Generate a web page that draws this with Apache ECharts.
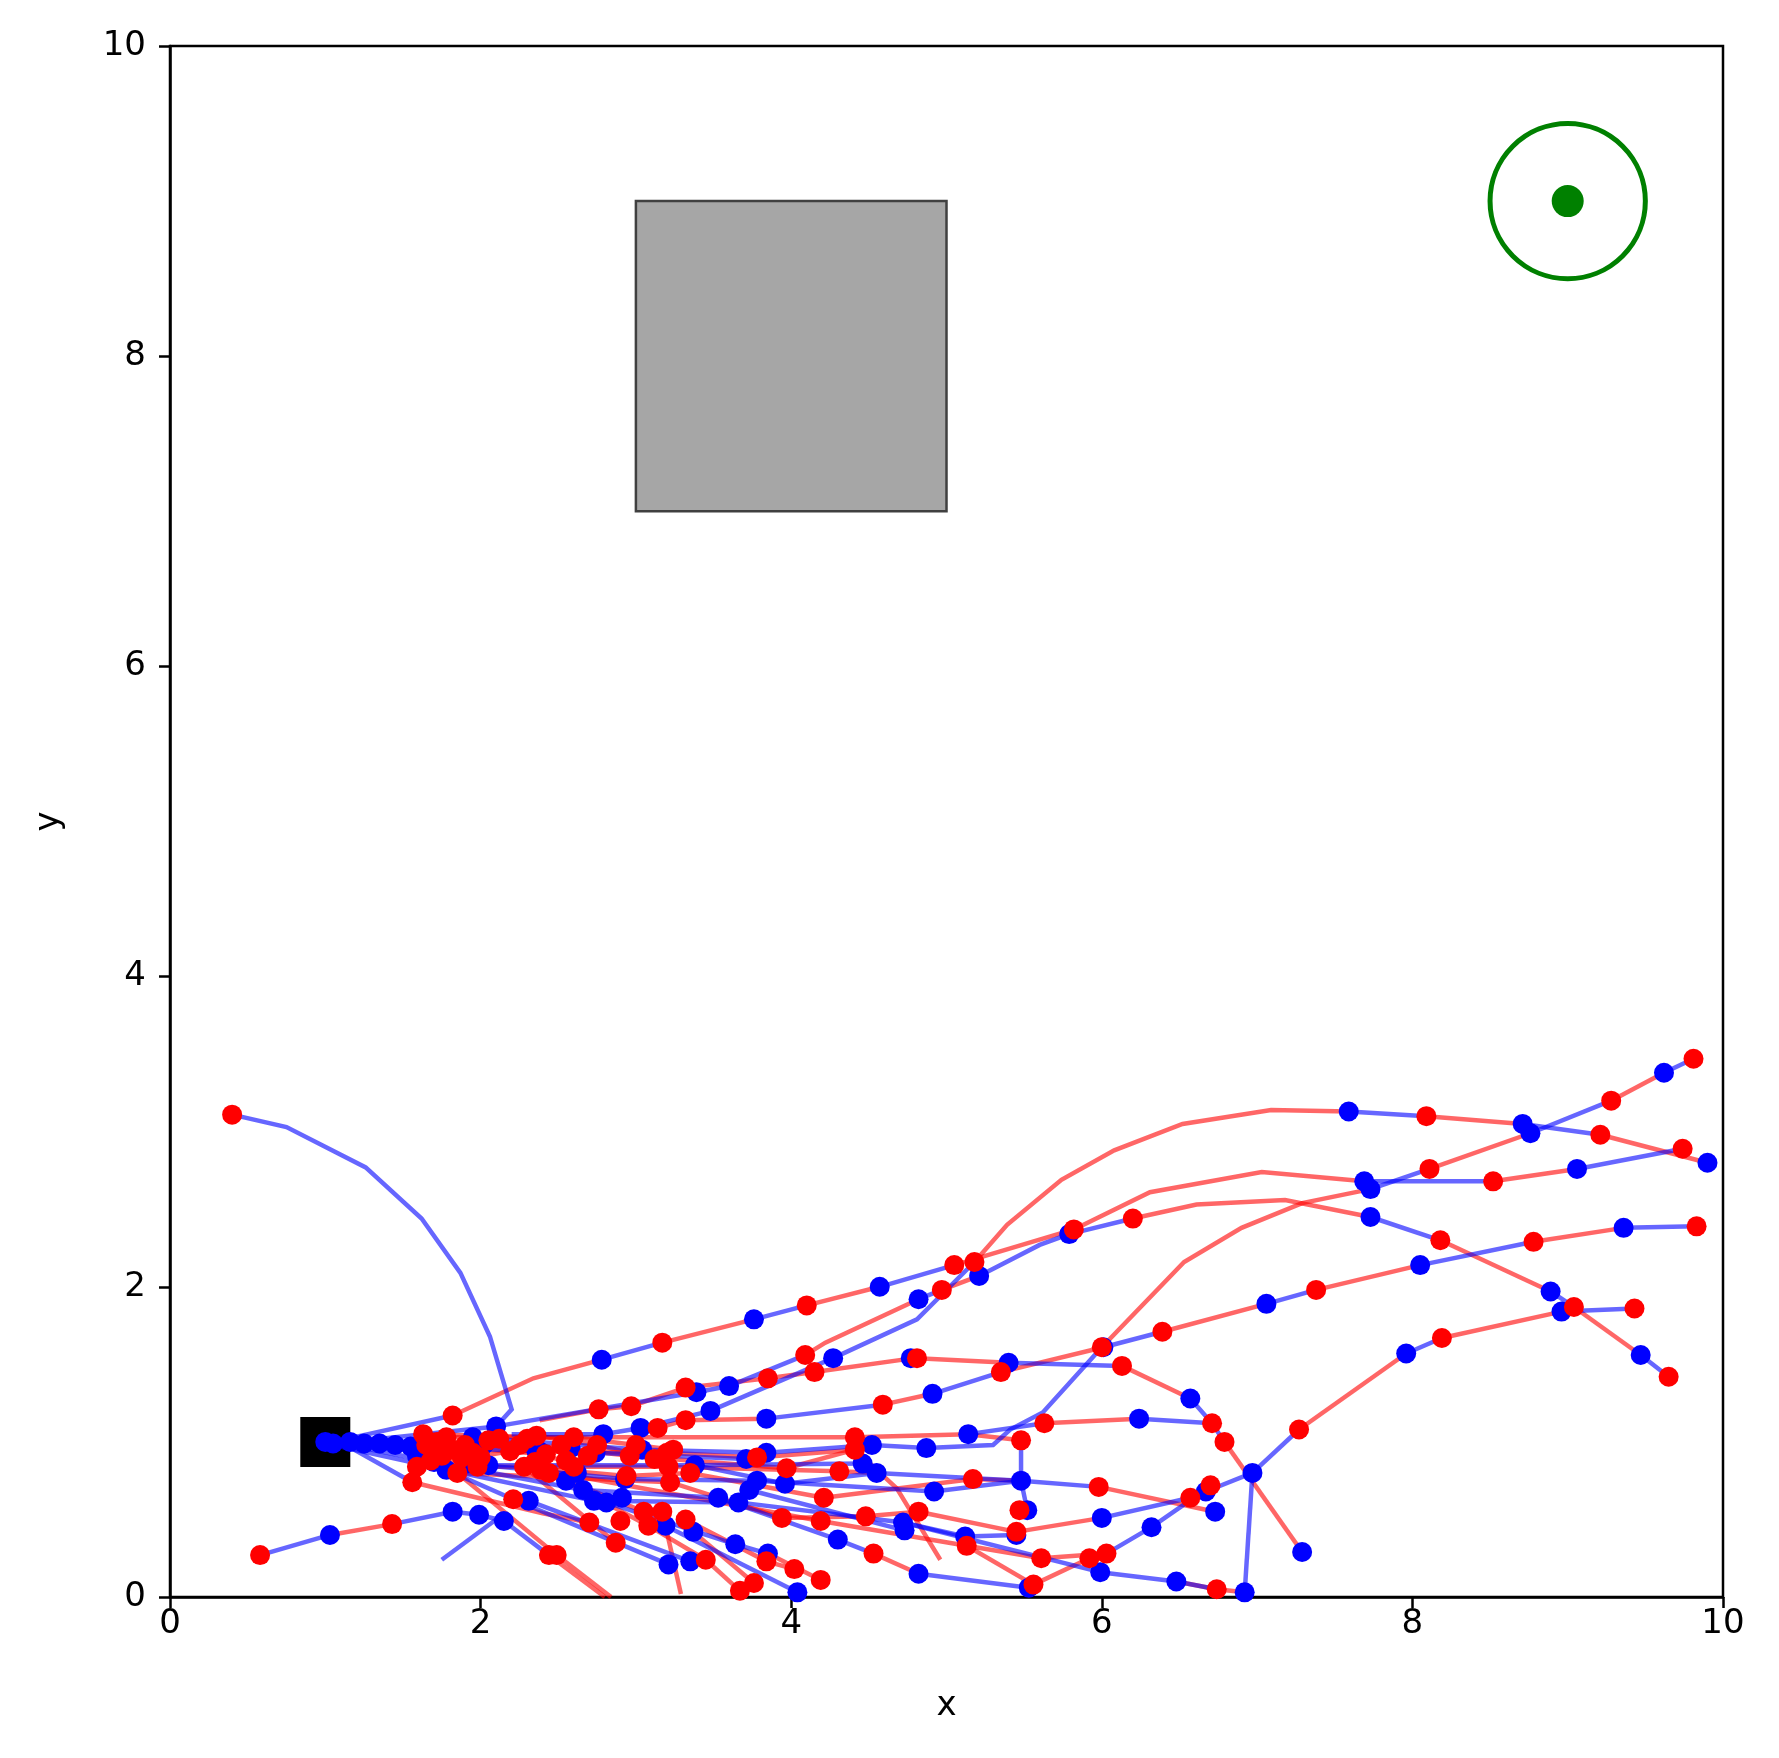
<!DOCTYPE html>
<html><head><meta charset="utf-8">
<script src="https://cdn.jsdelivr.net/npm/echarts@6/dist/echarts.min.js"></script>
<style>html,body{margin:0;padding:0;background:#fff}#c{width:1779px;height:1758px}</style>
</head><body><div id="c"></div>
<script>
const xTicks = [0, 2, 4, 6, 8, 10];
const yTicks = [0, 2, 4, 6, 8, 10];
const obstacle = [[3, 7], [5, 9]];
const goal = [9, 9];
const goalRadius = 0.5;
const start = [1, 1];

const blueLines = [
  [[2.10,1.10],[2.20,1.21],[2.06,1.68],[1.87,2.09],[1.62,2.44],[1.26,2.77],[0.75,3.03],[0.40,3.11]],
  [[1.05,1.00],[1.82,1.17]],
  [[2.78,1.53],[3.17,1.64]],
  [[3.76,1.79],[4.10,1.88]],
  [[4.57,2.00],[5.05,2.14]],
  [[7.69,2.68],[8.52,2.68]],
  [[9.06,2.76],[9.74,2.89]],
  [[4.82,1.92],[4.97,1.98]],
  [[5.21,2.07],[5.60,2.27],[5.79,2.34]],
  [[5.79,2.34],[6.20,2.44]],
  [[7.73,2.45],[8.18,2.30]],
  [[8.89,1.97],[9.04,1.87]],
  [[9.47,1.56],[9.65,1.42]],
  [[4.27,1.54],[4.81,1.79],[5.18,2.16]],
  [[7.59,3.13],[8.09,3.10]],
  [[8.71,3.05],[9.21,2.98]],
  [[7.73,2.63],[8.11,2.76]],
  [[8.76,2.99],[9.28,3.20]],
  [[9.62,3.38],[9.81,3.47]],
  [[6.01,1.61],[6.39,1.71]],
  [[7.06,1.89],[7.38,1.98]],
  [[8.05,2.14],[8.78,2.29]],
  [[9.36,2.38],[9.83,2.39]],
  [[4.87,0.96],[5.30,0.98],[5.41,1.08],[5.62,1.19],[6.00,1.61]],
  [[4.91,1.31],[5.35,1.45]],
  [[3.84,1.15],[4.59,1.24]],
  [[5.40,1.51],[6.13,1.49]],
  [[6.57,1.28],[6.71,1.12],[6.79,1.00]],
  [[6.24,1.15],[6.71,1.12]],
  [[6.97,0.80],[7.27,1.08]],
  [[7.96,1.57],[8.19,1.67]],
  [[8.96,1.84],[9.43,1.86]],
  [[6.97,0.80],[6.92,0.03]],
  [[6.67,0.68],[6.97,0.80]],
  [[5.48,0.75],[5.98,0.71]],
  [[6.00,0.51],[6.57,0.64]],
  [[6.03,0.28],[6.32,0.45],[6.68,0.70]],
  [[5.14,1.05],[5.63,1.12]],
  [[5.48,1.01],[5.48,0.75],[5.52,0.56]],
  [[4.30,0.37],[4.53,0.28]],
  [[5.99,0.16],[6.48,0.10],[6.74,0.05]],
  [[1.03,0.40],[0.58,0.27]],
  [[1.82,0.55],[1.43,0.47]],
  [[2.15,0.49],[1.99,0.53],[1.82,0.55]],
  [[2.10,0.50],[1.75,0.24]],
  [[2.15,0.49],[2.44,0.27]],
  [[1.15,0.97],[1.56,0.74]],
  [[1.70,0.87],[2.66,0.69],[3.53,0.64]],
  [[1.78,0.82],[2.73,0.62],[3.66,0.61]],
  [[1.78,0.82],[2.21,0.63]],
  [[2.21,0.63],[3.21,0.21]],
  [[2.31,0.62],[3.35,0.23]],
  [[2.81,0.61],[3.64,0.34],[3.85,0.28]],
  [[3.19,0.46],[4.04,0.03]],
  [[3.53,0.64],[4.30,0.37]],
  [[3.66,0.61],[4.72,0.48],[5.12,0.39]],
  [[3.73,0.69],[4.73,0.43]],
  [[3.78,0.75],[4.92,0.68],[5.48,0.75]],
  [[3.96,0.73],[4.55,0.80]],
  [[3.38,0.85],[4.46,0.86]],
  [[4.55,0.80],[5.48,0.75]],
  [[4.72,0.48],[5.99,0.16]],
  [[5.12,0.39],[5.45,0.40]],
  [[4.82,0.15],[5.53,0.06]],
  [[1.95,1.03],[3.04,0.95],[3.84,0.93],[4.52,0.98]],
  [[2.02,0.98],[2.74,0.93],[3.71,0.89]],
  [[1.91,0.86],[2.93,0.76],[3.78,0.75]],
  [[2.05,0.85],[3.38,0.85],[3.96,0.73]],
  [[1.16,1.00],[2.10,1.10]],
  [[2.10,1.10],[3.39,1.32],[3.60,1.36]],
  [[3.60,1.36],[4.09,1.56]],
  [[3.48,1.20],[4.27,1.54]],
  [[2.20,1.05],[2.79,1.05],[3.03,1.09],[3.48,1.20]],
  [[1.00,1.00],[1.90,0.93]],
  [[1.20,0.98],[2.38,0.94]],
  [[1.05,0.98],[1.78,0.82]],
  [[1.10,0.99],[1.70,0.87]],
  [[4.52,0.98],[4.87,0.96]]
];

const redLines = [
  [[1.82,1.17],[2.34,1.41],[2.78,1.53]],
  [[3.17,1.64],[3.76,1.79]],
  [[4.10,1.88],[4.57,2.00]],
  [[5.05,2.14],[5.82,2.37]],
  [[5.82,2.37],[6.31,2.61],[7.03,2.74],[7.69,2.68]],
  [[8.52,2.68],[9.06,2.76]],
  [[4.09,1.56],[4.22,1.64],[4.82,1.92]],
  [[4.97,1.98],[5.21,2.07]],
  [[6.20,2.44],[6.61,2.53],[7.18,2.56],[7.73,2.45]],
  [[8.18,2.30],[8.89,1.97]],
  [[9.04,1.87],[9.47,1.56]],
  [[5.18,2.16],[5.39,2.40],[5.74,2.69],[6.08,2.88],[6.52,3.05],[7.09,3.14],[7.59,3.13]],
  [[8.09,3.10],[8.71,3.05]],
  [[9.21,2.98],[9.90,2.80]],
  [[6.00,1.61],[6.53,2.16],[6.90,2.38],[7.29,2.54],[7.73,2.63]],
  [[8.11,2.76],[8.76,2.99]],
  [[9.28,3.20],[9.62,3.38]],
  [[6.39,1.71],[7.06,1.89]],
  [[7.38,1.98],[8.05,2.14]],
  [[8.78,2.29],[9.36,2.38]],
  [[5.35,1.45],[6.01,1.61]],
  [[4.59,1.24],[4.91,1.31]],
  [[3.85,1.41],[4.15,1.45],[4.79,1.54]],
  [[4.81,1.54],[5.40,1.51]],
  [[6.13,1.49],[6.57,1.28]],
  [[6.79,1.00],[7.29,0.29]],
  [[5.63,1.12],[6.24,1.15]],
  [[7.27,1.08],[7.96,1.57]],
  [[8.19,1.67],[8.96,1.84]],
  [[5.98,0.71],[6.73,0.55]],
  [[5.45,0.42],[6.00,0.51]],
  [[5.56,0.08],[5.92,0.25]],
  [[5.61,0.25],[6.03,0.28]],
  [[6.48,0.10],[6.74,0.05],[6.92,0.03]],
  [[4.41,1.03],[5.14,1.05],[5.48,1.01]],
  [[4.41,0.95],[4.68,0.70],[4.96,0.24]],
  [[1.43,0.47],[1.03,0.40]],
  [[1.56,0.74],[2.40,0.54],[2.70,0.48]],
  [[1.85,0.80],[2.49,0.27]],
  [[2.44,0.27],[2.80,0.00]],
  [[2.49,0.27],[2.84,0.00]],
  [[2.28,0.84],[2.87,0.35]],
  [[2.39,0.82],[3.05,0.55],[3.17,0.55]],
  [[2.44,0.80],[3.08,0.46],[3.45,0.24]],
  [[3.17,0.55],[3.29,0.02]],
  [[3.45,0.24],[3.67,0.04]],
  [[3.32,0.50],[3.84,0.23],[4.02,0.18]],
  [[3.37,0.42],[3.76,0.09]],
  [[3.85,0.28],[4.19,0.11]],
  [[3.94,0.51],[4.48,0.52],[4.82,0.55]],
  [[4.21,0.64],[5.17,0.76],[5.48,0.75]],
  [[4.82,0.55],[5.45,0.42]],
  [[4.53,0.28],[4.82,0.15]],
  [[4.19,0.49],[5.13,0.33],[5.61,0.25]],
  [[5.13,0.33],[5.56,0.08]],
  [[3.97,0.83],[4.41,0.95]],
  [[4.31,0.81],[4.55,0.80]],
  [[1.63,1.05],[2.45,1.03],[4.41,1.03]],
  [[1.78,1.03],[2.60,1.03],[3.24,0.95]],
  [[2.19,0.94],[3.20,0.93],[3.78,0.90],[4.41,0.95]],
  [[2.05,1.01],[2.96,0.91],[3.97,0.83]],
  [[1.98,0.84],[3.21,0.84],[4.31,0.81]],
  [[2.28,0.84],[2.94,0.78],[3.35,0.80],[4.21,0.64]],
  [[1.85,0.80],[3.22,0.74],[3.94,0.51]],
  [[2.36,1.04],[2.75,0.98],[3.12,0.89]],
  [[2.38,1.14],[2.76,1.21],[2.97,1.23],[3.32,1.35],[3.85,1.41]],
  [[3.03,1.09],[3.14,1.09],[3.32,1.14],[3.84,1.15]],
  [[1.59,0.84],[2.19,0.94]],
  [[2.39,0.82],[4.19,0.49]],
  [[1.65,0.98],[2.42,0.92],[2.60,0.84]]
];

const redDots = [
  [0.40,3.11],[1.82,1.17],[3.17,1.64],[4.10,1.88],[5.05,2.14],[5.82,2.37],[5.18,2.16],[4.97,1.98],
  [6.20,2.44],[8.18,2.30],[9.04,1.87],[9.65,1.42],[8.09,3.10],[9.21,2.98],[9.74,2.89],[8.52,2.68],
  [8.11,2.76],[9.28,3.20],[9.81,3.47],[6.00,1.61],[6.39,1.71],[7.38,1.98],[8.78,2.29],[9.83,2.39],
  [7.27,1.08],[8.19,1.67],[9.43,1.86],[5.35,1.45],[6.13,1.49],[6.79,1.00],[6.71,1.12],[5.63,1.12],
  [4.59,1.24],[3.85,1.41],[4.09,1.56],[4.15,1.45],[4.81,1.54],[5.48,1.01],[4.41,1.03],[4.41,0.95],
  [5.98,0.71],[6.57,0.64],[6.70,0.72],[5.45,0.42],[5.47,0.56],[6.03,0.28],[5.92,0.25],[5.56,0.08],
  [5.61,0.25],[6.74,0.05],[5.17,0.76],[4.82,0.55],[4.48,0.52],[4.19,0.49],[4.53,0.28],[5.13,0.33],
  [4.02,0.18],[4.19,0.11],[3.94,0.51],[3.97,0.83],[4.31,0.81],[4.21,0.64],[3.67,0.04],[3.76,0.09],
  [3.84,0.23],[3.45,0.24],[3.32,0.50],[3.17,0.55],[3.05,0.55],[3.08,0.46],[2.90,0.49],[2.87,0.35],
  [2.70,0.48],[2.44,0.27],[2.49,0.27],[1.43,0.47],[0.58,0.27],[1.56,0.74],[2.21,0.63],
  [1.63,1.05],[1.78,1.03],[1.75,0.91],[1.59,0.84],[1.85,0.80],[1.98,0.84],[2.19,0.94],[2.28,0.84],
  [2.36,1.04],[2.39,0.82],[2.52,0.98],[2.44,0.80],[2.69,0.91],[2.96,0.91],[2.94,0.78],[3.20,0.93],
  [3.24,0.95],[3.21,0.84],[3.22,0.74],[3.35,0.80],[3.78,0.90],[2.76,1.21],[2.97,1.23],[3.32,1.14],
  [3.14,1.09],[3.32,1.35],[1.90,0.98],[2.05,1.01],[2.30,1.02],[2.60,1.03],[2.75,0.98],[3.00,0.98],
  [3.12,0.89],[2.60,0.84],[1.65,0.98],[1.72,1.00],[1.82,0.95],[1.88,0.90],[1.95,0.93],[2.12,1.02],
  [2.25,0.98],[2.42,0.92],[2.55,0.88],[2.35,0.87],[1.68,0.88],[2.00,0.90]
];

const blueDots = [
  [1.00,1.00],[1.05,0.99],[1.16,1.00],[1.25,0.99],[1.35,0.99],[1.45,0.98],[1.55,0.97],[1.60,0.93],
  [1.68,0.95],[1.75,0.92],[1.59,0.91],[1.70,0.87],[1.78,0.82],[1.91,0.86],[1.95,1.03],[2.02,0.98],
  [2.05,0.85],[2.10,1.10],[2.36,0.94],[2.31,0.62],[1.82,0.55],[1.99,0.53],[2.15,0.49],[1.03,0.40],
  [2.78,1.53],[3.76,1.79],[4.57,2.00],[4.82,1.92],[5.21,2.07],[5.79,2.34],[7.73,2.45],[8.89,1.97],
  [9.47,1.56],[7.59,3.13],[8.71,3.05],[9.90,2.80],[7.73,2.63],[8.76,2.99],[9.62,3.38],[7.69,2.68],
  [9.06,2.76],[6.01,1.61],[7.06,1.89],[8.05,2.14],[9.36,2.38],[7.96,1.57],[8.96,1.84],[6.97,0.80],
  [6.92,0.03],[7.29,0.29],[6.57,1.28],[6.24,1.15],[5.40,1.51],[4.91,1.31],[4.77,1.54],[4.27,1.54],
  [3.84,1.15],[3.39,1.32],[3.60,1.36],[3.48,1.20],[2.79,1.05],[3.03,1.09],[5.14,1.05],[4.87,0.96],
  [4.52,0.98],[5.48,0.75],[5.52,0.56],[6.73,0.55],[6.00,0.51],[6.32,0.45],[6.67,0.68],[5.99,0.16],
  [6.48,0.10],[5.53,0.06],[4.46,0.86],[4.55,0.80],[4.92,0.68],[4.72,0.48],[4.73,0.43],[4.30,0.37],
  [4.82,0.15],[5.12,0.39],[5.45,0.40],[4.04,0.03],[3.85,0.28],[3.64,0.34],[3.35,0.23],[3.21,0.21],
  [3.37,0.42],[3.19,0.46],[3.53,0.64],[3.66,0.61],[3.73,0.69],[3.78,0.75],[3.96,0.73],[3.71,0.89],
  [3.84,0.93],[3.38,0.85],[3.04,0.95],[2.93,0.76],[2.91,0.64],[2.81,0.61],[2.73,0.62],[2.66,0.69],
  [2.55,0.75],[2.74,0.93],[2.38,0.94],[2.58,0.96],[2.62,0.80]
];

const chart = echarts.init(document.getElementById('c'), null, {renderer: 'canvas'});
const FONT = 'DejaVu Sans';
const axisCommon = {
  type: 'value', min: 0, max: 10, interval: 2,
  axisLine: {onZero: false, lineStyle: {color: '#000', width: 2.5}},
  axisTick: {length: 11, lineStyle: {color: '#000', width: 2.5}},
  splitLine: {show: false},
  nameLocation: 'middle',
  nameTextStyle: {fontSize: 34, color: '#000', fontFamily: FONT}
};
chart.setOption({
  animation: false,
  backgroundColor: '#fff',
  grid: {left: 170, right: 56, top: 46, bottom: 161, show: true, borderColor: '#000', borderWidth: 2.5, backgroundColor: 'transparent'},
  xAxis: Object.assign({}, axisCommon, {
    name: 'x', nameGap: 92,
    axisLabel: {fontSize: 34, color: '#000', margin: 10, fontFamily: FONT}
  }),
  yAxis: Object.assign({}, axisCommon, {
    name: 'y', nameGap: 104, nameRotate: 90,
    axisLabel: {fontSize: 34, color: '#000', margin: 24, fontFamily: FONT}
  }),
  series: [
    {
      type: 'custom', z: 1, silent: true,
      data: [[obstacle[0][0], obstacle[0][1], obstacle[1][0], obstacle[1][1]]],
      renderItem: function (params, api) {
        const p0 = api.coord([api.value(0), api.value(3)]);
        const p1 = api.coord([api.value(2), api.value(1)]);
        return {type: 'rect', shape: {x: p0[0], y: p0[1], width: p1[0] - p0[0], height: p1[1] - p0[1]},
          style: {fill: '#a6a6a6', stroke: '#404040', lineWidth: 2.5}};
      }
    },
    {
      type: 'custom', z: 1, silent: true,
      data: [[goal[0], goal[1], goalRadius]],
      renderItem: function (params, api) {
        const c = api.coord([api.value(0), api.value(1)]);
        const r = api.size([api.value(2), 0])[0];
        return {type: 'circle', shape: {cx: c[0], cy: c[1], r: r}, style: {fill: 'none', stroke: '#008000', lineWidth: 5}};
      }
    },
    {type: 'scatter', z: 2, data: [goal], symbol: 'circle', symbolSize: 32, itemStyle: {color: '#008000', opacity: 1}, silent: true},
    {type: 'scatter', z: 2, data: [start], symbol: 'rect', symbolSize: 50, itemStyle: {color: '#000', opacity: 1}, silent: true},
    {type: 'lines', coordinateSystem: 'cartesian2d', polyline: true, z: 3, silent: true,
      data: redLines.map(c => ({coords: c})),
      lineStyle: {color: '#ff0000', opacity: 0.6, width: 4.5}},
    {type: 'lines', coordinateSystem: 'cartesian2d', polyline: true, z: 3, silent: true,
      data: blueLines.map(c => ({coords: c})),
      lineStyle: {color: '#0000ff', opacity: 0.6, width: 4.5}},
    {type: 'scatter', z: 4, data: blueDots, symbolSize: 20, itemStyle: {color: '#0000ff', opacity: 1}, silent: true},
    {type: 'scatter', z: 5, data: redDots, symbolSize: 20, itemStyle: {color: '#ff0000', opacity: 1}, silent: true}
  ]
});
</script>
</body></html>
